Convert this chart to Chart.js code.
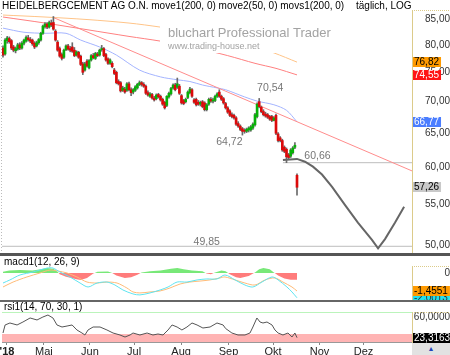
<!DOCTYPE html>
<html>
<head>
<meta charset="utf-8">
<script src="https://cdn.jsdelivr.net/npm/chart.js@4"></script>
<style>
  body { margin: 0; background: #fff; width: 450px; height: 355px; overflow: hidden; position: relative;
         font-family: "Liberation Sans", Arial, sans-serif; }
  canvas { position: absolute; left: 0; }
  #cMain { top: 0; }
  #cMacd { top: 256px; }
  #cRsi { top: 302px; }
  .lbl { position: absolute; font-size: 10px; line-height: 12px; color: #000; white-space: nowrap; }
  .sep { position: absolute; left: 0; width: 450px; }
  #scroll { position: absolute; left: 412px; top: 343px; width: 38px; height: 12px; background: #e2e2e2;
            color: #2244bb; font-size: 7px; line-height: 12px; text-align: center; }
</style>
</head>
<body>
<canvas id="cMain" width="450" height="256"></canvas>
<canvas id="cMacd" width="450" height="46"></canvas>
<canvas id="cRsi" width="450" height="53"></canvas>
<div class="lbl" style="left:2px;top:0px">HEIDELBERGCEMENT AG O.N. move1(200, 0) move2(50, 0) movs1(200, 0)</div>
<div class="lbl" style="left:356px;top:0px">täglich, LOG</div>
<div class="lbl" style="left:4px;top:256px">macd1(12, 26, 9)</div>
<div class="lbl" style="left:4px;top:301px">rsi1(14, 70, 30, 1)</div>
<div class="sep" style="top:253px;height:3px;background:#555"></div>
<div class="sep" style="top:300px;height:2px;background:#666"></div>
<div id="scroll">▲</div>
<script>
// HeidelbergCement daily candles, Apr – mid Oct 2018 (one entry per trading day)
const opens = [
  79.4, 78.3, 80.8, 81.2, 80.8, 79.6, 78.9, 79.2, 80.0, 79.4,
  80.3, 80.7, 81.3, 81.0, 80.9, 80.3, 79.8, 80.4, 80.9, 82.2,
  83.5, 84.0, 83.4, 84.2, 84.3, 82.6, 80.5, 79.3, 78.2, 77.7,
  79.1, 79.8, 79.3, 79.6, 79.0, 78.1, 78.6, 77.9, 76.5, 75.4,
  77.0, 75.8, 77.2, 78.0, 77.5, 78.3, 78.1, 79.1, 79.3, 78.2,
  77.4, 76.6, 76.6, 75.4, 75.0, 73.4, 73.2, 71.9, 72.1, 71.9,
  73.0, 72.0, 71.6, 71.9, 72.3, 72.9, 73.2, 72.9, 72.6, 71.5,
  70.9, 71.2, 70.6, 70.5, 71.2, 70.9, 70.4, 69.9, 69.4, 70.8,
  71.3, 72.3, 72.8, 72.4, 72.6, 71.0, 70.2, 70.0, 70.7, 71.5,
  72.0, 70.3, 70.4, 69.9, 69.6, 70.0, 69.8, 68.7, 69.6, 70.4,
  70.1, 70.2, 70.9, 71.6, 70.9, 70.5, 69.7, 69.0, 68.5, 67.9,
  67.8, 67.4, 66.5, 66.1, 65.7, 65.4, 65.3, 65.5, 65.5, 65.8,
  66.3, 67.6, 70.0, 69.1, 68.4, 68.0, 67.9, 67.6, 67.6, 67.0,
  67.8, 64.9, 64.3, 63.9, 62.9, 62.6, 61.8, 61.6, 62.1, 62.9,
  58.9
];
const highs = [
  79.8, 81.2, 81.6, 81.5, 81.0, 79.9, 79.6, 80.3, 80.4, 80.6,
  81.1, 81.7, 81.8, 81.4, 81.1, 80.6, 80.7, 81.2, 82.4, 83.8,
  84.3, 84.3, 84.6, 84.8, 85.5, 82.9, 80.8, 79.6, 78.5, 79.2,
  80.0, 80.1, 79.7, 80.4, 79.5, 78.9, 78.8, 78.1, 76.8, 76.8,
  77.3, 77.3, 78.2, 78.4, 78.6, 78.6, 79.2, 79.9, 79.5, 78.4,
  77.6, 77.4, 76.9, 75.7, 75.2, 73.7, 73.4, 72.6, 72.4, 73.2,
  73.3, 72.3, 72.2, 72.7, 73.1, 73.5, 73.4, 73.2, 72.8, 71.8,
  71.5, 71.4, 70.9, 71.3, 71.4, 71.1, 70.6, 70.1, 71.0, 71.6,
  72.4, 73.0, 73.1, 74.0, 72.9, 71.2, 70.4, 70.6, 71.8, 72.4,
  72.2, 70.5, 70.6, 70.2, 70.1, 70.2, 70.0, 69.7, 70.6, 70.7,
  70.6, 71.1, 71.5, 72.0, 71.1, 70.7, 69.9, 69.2, 68.7, 68.2,
  68.0, 67.6, 66.8, 66.3, 65.9, 65.7, 65.8, 66.0, 66.2, 66.6,
  68.1, 69.8, 70.54, 69.3, 68.7, 68.3, 68.1, 67.8, 67.8, 67.6,
  68.0, 65.1, 64.5, 64.1, 63.1, 62.8, 62.0, 62.7, 63.0, 63.6,
  59.1
];
const lows = [
  77.7, 78.1, 80.3, 80.3, 79.1, 78.7, 78.5, 79.0, 79.1, 79.2,
  80.0, 80.5, 80.7, 80.4, 79.9, 79.3, 79.6, 80.1, 80.7, 82.0,
  83.2, 83.1, 83.2, 83.5, 82.8, 80.7, 78.8, 77.7, 77.2, 77.5,
  78.9, 79.0, 78.7, 78.6, 77.8, 77.9, 77.5, 76.2, 74.6, 75.2,
  75.9, 75.6, 77.0, 77.4, 77.3, 77.8, 77.9, 78.8, 77.8, 77.0,
  76.4, 76.4, 75.8, 74.6, 73.0, 72.8, 71.6, 71.7, 71.4, 71.7,
  71.8, 71.0, 71.3, 71.7, 72.1, 72.7, 72.6, 72.4, 71.2, 70.9,
  70.7, 70.4, 70.1, 70.3, 70.6, 70.1, 69.4, 68.8, 69.2, 70.6,
  71.1, 72.1, 71.8, 72.2, 71.2, 69.6, 69.5, 69.8, 70.5, 71.3,
  70.7, 69.7, 69.3, 69.4, 69.3, 69.0, 68.5, 68.5, 69.4, 69.9,
  69.8, 70.0, 70.7, 70.7, 70.2, 69.6, 68.8, 68.1, 67.6, 67.4,
  67.2, 66.2, 65.9, 65.4, 64.72, 65.0, 65.1, 65.2, 65.3, 65.6,
  66.1, 67.4, 69.0, 68.2, 67.7, 67.5, 67.3, 67.0, 66.8, 66.9,
  64.8, 63.7, 63.7, 62.3, 62.1, 60.66, 61.2, 61.4, 61.9, 62.7,
  56.2
];
const closes = [
  78.1, 80.9, 81.3, 80.6, 79.4, 79.0, 79.3, 80.0, 79.4, 80.3,
  80.9, 81.4, 81.0, 80.7, 80.2, 79.6, 80.4, 81.0, 82.2, 83.6,
  84.0, 83.4, 84.3, 83.8, 83.0, 80.9, 79.0, 77.9, 77.5, 79.0,
  79.8, 79.2, 79.0, 78.8, 78.0, 78.7, 77.7, 76.4, 75.0, 76.5,
  76.1, 77.1, 78.0, 77.6, 78.4, 78.0, 79.0, 79.3, 78.0, 77.2,
  76.6, 77.2, 76.0, 74.8, 73.2, 73.0, 71.8, 72.3, 71.6, 73.0,
  72.0, 71.5, 72.0, 72.5, 72.9, 73.2, 72.9, 72.6, 71.4, 71.1,
  71.3, 70.6, 70.3, 71.1, 70.8, 70.3, 69.6, 69.0, 70.9, 71.4,
  72.2, 72.8, 72.0, 73.0, 71.4, 69.8, 69.7, 70.4, 71.6, 72.1,
  70.9, 69.9, 69.5, 69.6, 69.9, 69.2, 68.7, 69.5, 70.4, 70.1,
  70.3, 70.9, 71.3, 70.9, 70.4, 69.8, 69.0, 68.3, 67.8, 67.6,
  67.4, 66.4, 66.1, 65.6, 65.3, 65.3, 65.6, 65.8, 66.0, 66.4,
  67.9, 69.6, 69.2, 68.4, 67.9, 67.7, 67.5, 67.2, 67.0, 67.4,
  65.0, 63.9, 63.9, 62.5, 62.3, 61.5, 61.4, 62.5, 62.8, 63.2,
  57.26
];

// moving averages (day index, value)
const move1Idx = [0, 20, 40, 60, 75, 90, 107, 120, 130, 140];
const move1 = [85.4, 84.2, 82.9, 81.6, 80.7, 79.6, 78.0, 76.6, 75.7, 74.55];
const movs1Idx = [0, 20, 40, 60, 75, 90, 105, 120, 129, 140];
const movs1 = [85.8, 85.4, 84.9, 84.2, 83.4, 82.4, 81.3, 79.6, 78.5, 76.82];
const move2Idx = [0, 10, 20, 30, 37, 46, 54, 65, 75, 83, 89, 95, 102, 106, 115, 121, 129, 135, 140];
const move2 = [83.2, 82.4, 82.2, 82.2, 80.9, 79.6, 78.1, 75.4, 74.2, 73.7, 73.4, 72.8, 72.3, 72.0, 70.8, 70.1, 69.5, 68.6, 66.77];

// trend line from the May high, and the drawn projection
const trendIdx = [24, 194.76];
const trendVals = [85.3, 59.5];
const projIdx = [133.3, 140, 143.8, 147.6, 151.9, 156.7, 162.9, 169, 175.7, 178.6, 181.9, 186.7, 191];
const projVals = [61.05, 61.2, 60.8, 60.1, 59.0, 57.3, 54.9, 52.7, 50.6, 49.6, 50.7, 52.7, 54.7];

// marked highs / lows
const noteIdx = [122, 114, 135, 97];
const noteVals = [70.54, 64.72, 60.66, 49.85];
const noteOffsets = [[11, -10], [-13, 7], [31, -7], [0, -4]];
const levelFrom = [133.3, -0.476];
const levelVals = [60.66, 49.85];

// MACD panel
const macdIdx = [0, 3.3, 8.1, 14.3, 21, 23.8, 27.1, 31.9, 36.7, 40.5, 44.8, 49.5, 53.3, 57.1, 61.9, 65.2, 70, 74.8, 78.6, 82.9, 87.6, 92.4, 97.1, 101.9, 105.7, 110.5, 115.2, 119, 123.3, 128.1, 131, 135.2, 137.6, 140];
const macdVals = [-0.81, -0.56, -0.16, 0.08, 0.40, 0.40, 0.08, -0.32, -0.81, -1.13, -0.81, -0.73, -0.97, -1.37, -1.69, -1.77, -1.61, -1.37, -1.13, -0.73, -0.73, -0.56, -0.48, -0.48, -0.16, -0.56, -0.97, -1.13, -0.73, -0.32, -0.56, -1.13, -1.53, -2.0013];
const sigIdx = [0, 4.8, 11.4, 17.6, 22.4, 26.2, 30.5, 35.2, 40, 44.8, 49.5, 54.3, 59, 61.9, 65.2, 70, 74.8, 79.5, 84.3, 89, 93.8, 98.6, 103.3, 105.7, 110.5, 115.2, 120, 124.8, 129.5, 133.3, 137.6, 140];
const sigVals = [-1.13, -0.73, -0.32, 0, 0.24, 0.16, 0, -0.32, -0.73, -0.81, -0.73, -0.81, -1.21, -1.53, -1.61, -1.53, -1.45, -1.21, -0.89, -0.73, -0.65, -0.56, -0.40, -0.32, -0.56, -0.81, -0.97, -0.56, -0.40, -0.73, -1.13, -1.4551];
const histIdx = [0, 3, 8, 14, 18, 21, 24, 26, 27, 30, 35, 37, 40, 43, 45, 50, 52, 54, 58, 61, 64, 66, 70, 75, 80, 83, 86, 90, 95, 97, 99, 101, 104, 106, 108, 111, 113, 117, 120, 122, 124, 127, 129, 131, 134, 137, 140];
const histVals = [0.1, 0.2, 0.25, 0.2, 0.3, 0.4, 0.35, 0.1, -0.1, -0.3, -0.5, -0.56, -0.4, -0.05, 0.1, 0.12, 0, -0.2, -0.4, -0.35, -0.15, 0.05, 0.15, 0.2, 0.35, 0.4, 0.3, 0.2, 0.15, -0.05, -0.1, 0.05, 0.2, 0.15, -0.1, -0.35, -0.4, -0.25, 0.05, 0.3, 0.4, 0.3, 0.05, -0.2, -0.45, -0.55, -0.55];

// RSI panel
const rsiUpper = 70, rsiLower = 30;
const rsiIdx = [0, 1, 3.3, 6.7, 9.5, 12.9, 16.2, 19, 21.4, 23.8, 25.7, 28.1, 30.5, 32.9, 35.2, 37.6, 39, 40.5, 42.9, 46.2, 49.5, 52.4, 55.7, 58.1, 60.5, 61.9, 65.2, 68.6, 71.4, 73.8, 76.2, 78.6, 80.5, 82.9, 85.2, 87.6, 90, 92.4, 95.2, 98.6, 101.9, 104.8, 106, 109, 111.9, 115.2, 117.6, 119, 120.9, 122.4, 123.8, 125.7, 128.1, 129.5, 131, 133.3, 135.7, 137.6, 139, 140];
const rsiVals = [31.8, 46.4, 50, 46.4, 51.8, 59.1, 55.5, 60.9, 64.5, 59.1, 46.4, 42.7, 44.5, 46.4, 37.3, 31.8, 28.2, 37.3, 42.7, 42.7, 37.3, 31.8, 28.2, 24.5, 28.2, 31.8, 28.2, 31.8, 28.2, 30, 28.2, 37.3, 46.4, 42.7, 37.3, 42.7, 50, 46.4, 40.9, 42.7, 50, 46.4, 40, 31.8, 28.2, 28.2, 31.8, 42.7, 59.1, 51.8, 50, 51.8, 46.4, 37.3, 31.8, 28.2, 31.8, 24.5, 31.8, 23.3163];

// axis ticks
const priceTicks = [50, 55, 60, 65, 70, 75, 80, 85];
const monthLabels = ["'18", "Mai", "Jun", "Jul", "Aug", "Sep", "Okt", "Nov", "Dez"];
const monthPos = [1.9, 19.5, 41.4, 62.4, 84.8, 107.4, 128.6, 150.7, 171.7];

const FONT = '"Liberation Sans", Arial, sans-serif';
const X_MIN = -0.476, X_MAX = 194.76;
const GREEN = '#08b008', RED = '#dc0a0a';

Chart.defaults.font.family = FONT;
Chart.defaults.font.size = 10;
Chart.defaults.animation = false;
Chart.defaults.plugins.legend.display = false;
Chart.defaults.plugins.tooltip.enabled = false;
Chart.defaults.elements.point.radius = 0;

const pts = (xs, ys) => xs.map((x, i) => ({ x, y: ys[i] }));
const fmt = (v, d) => v.toFixed(d).replace('.', ',');
const last = arr => arr[arr.length - 1];

function xAxis(show) {
  return {
    type: 'linear', min: X_MIN, max: X_MAX, offset: false, display: show,
    grid: { drawOnChartArea: false, tickLength: 3, color: '#888' },
    border: { color: '#999' },
    afterBuildTicks: s => { s.ticks = monthPos.map(v => ({ value: v })); s.min = X_MIN; s.max = X_MAX; },
    afterFit: s => { s.height = show ? 13 : 0; s.paddingLeft = 0; s.paddingRight = 0; },
    ticks: {
      autoSkip: false, maxRotation: 0, padding: 0, color: '#222',
      callback: (v, i) => monthLabels[i],
      font: ctx => ({ size: 11, weight: ctx.index === 0 ? 'bold' : 'normal' })
    }
  };
}

function yAxis(type, min, max, ticks, label, pad) {
  return {
    type, min, max,
    position: 'right',
    grid: { display: false, drawTicks: false },
    border: { display: true, color: '#dccb8a', dash: [1, 1] },
    // keep the exact range, whatever the tick generator did
    afterBuildTicks: s => { s.ticks = ticks.map(v => ({ value: v })); s.min = min; s.max = max; },
    afterFit: s => { s.width = 38; s.paddingTop = 0; s.paddingBottom = 0; },
    ticks: { crossAlign: 'far', padding: pad, color: '#333', autoSkip: false, callback: label }
  };
}

// little coloured boxes with the latest values on the right axis
function valueBoxes(items) {
  return {
    id: 'valueBoxes',
    afterDraw(chart) {
      const { ctx, chartArea: a, width } = chart;
      const y = chart.scales.y;
      ctx.save();
      ctx.strokeStyle = '#dccb8a';
      ctx.setLineDash([1, 1]);
      ctx.beginPath();
      ctx.moveTo(a.right, a.top + 0.5);
      ctx.lineTo(width, a.top + 0.5);
      ctx.stroke();
      ctx.setLineDash([]);
      ctx.font = '10px ' + FONT;
      ctx.textBaseline = 'middle';
      items.forEach(b => {
        const py = Math.round(y.getPixelForValue(b.value));
        const w = ctx.measureText(b.text).width + 3;
        ctx.fillStyle = b.bg;
        ctx.fillRect(a.right + 1, py - 5, w, 10);
        ctx.fillStyle = b.fg;
        ctx.fillText(b.text, a.right + 2, py + 0.5);
      });
      ctx.restore();
    }
  };
}

const mainMarks = {
  id: 'mainMarks',
  afterDatasetsDraw(chart) {
    const { ctx, chartArea: a } = chart;
    const x = chart.scales.x, y = chart.scales.y;
    ctx.save();
    // watermark box hides the long averages behind it
    ctx.fillStyle = '#fff';
    ctx.fillRect(160, 20, 172, 33);
    ctx.fillStyle = '#a3a3a3';
    ctx.font = '13px ' + FONT;
    ctx.fillText('bluchart Professional Trader', 168, 37);
    ctx.font = '9px ' + FONT;
    ctx.fillText('www.trading-house.net', 168, 49);
    // high / low notes
    ctx.font = '10.5px ' + FONT;
    ctx.fillStyle = '#777';
    ctx.textAlign = 'center';
    ctx.textBaseline = 'middle';
    noteVals.forEach((v, i) => {
      ctx.fillText(fmt(v, 2), x.getPixelForValue(noteIdx[i]) + noteOffsets[i][0],
        y.getPixelForValue(v) + noteOffsets[i][1]);
    });
    // dotted left edge
    ctx.strokeStyle = '#bbb';
    ctx.setLineDash([1, 2]);
    ctx.beginPath();
    ctx.moveTo(1.5, a.top);
    ctx.lineTo(1.5, a.bottom);
    ctx.stroke();
    ctx.restore();
  }
};

// --- Price panel ---
const candleIdx = closes.map((c, i) => i);
const candleColor = ctx => closes[ctx.dataIndex] >= opens[ctx.dataIndex] ? GREEN : RED;

new Chart(document.getElementById('cMain'), {
  type: 'bar',
  data: {
    datasets: [
      { data: candleIdx.map(i => ({ x: i, y: [opens[i], closes[i]] })), backgroundColor: candleColor,
        barThickness: 2, minBarLength: 1, grouped: false, borderSkipped: false, order: 0 },
      { data: candleIdx.map(i => ({ x: i, y: [lows[i], highs[i]] })), backgroundColor: '#6a6a6a',
        barThickness: 1, grouped: false, borderSkipped: false, order: 1 },
      { type: 'line', data: pts(projIdx, projVals), borderColor: '#666', borderWidth: 2, order: 2 },
      { type: 'line', data: pts(trendIdx, trendVals), borderColor: '#ff8c8c', borderWidth: 1, order: 3 },
      { type: 'line', data: pts(move1Idx, move1), borderColor: '#ff8080', borderWidth: 1, tension: 0.3, order: 3 },
      { type: 'line', data: pts(movs1Idx, movs1), borderColor: '#ffc488', borderWidth: 1, tension: 0.3, order: 3 },
      { type: 'line', data: pts(move2Idx, move2), borderColor: '#a4b4ff', borderWidth: 1, tension: 0.3, order: 3 },
      { type: 'line', data: [{ x: levelFrom[0], y: levelVals[0] }, { x: X_MAX, y: levelVals[0] }], borderColor: '#bdbdbd', borderWidth: 1, order: 4 },
      { type: 'line', data: [{ x: levelFrom[1], y: levelVals[1] }, { x: X_MAX, y: levelVals[1] }], borderColor: '#bdbdbd', borderWidth: 1, order: 4 }
    ]
  },
  options: {
    responsive: false,
    layout: { padding: { left: 2, right: 0, top: 10, bottom: 3 } },
    scales: {
      x: xAxis(false),
      y: yAxis('logarithmic', 49.07, 86.82, priceTicks, v => fmt(v, 2), 13)
    }
  },
  plugins: [mainMarks, valueBoxes([
    { value: last(movs1), text: fmt(last(movs1), 2), bg: '#ff9a00', fg: '#000' },
    { value: last(move1), text: fmt(last(move1), 2), bg: '#ff1414', fg: '#fff' },
    { value: last(move2), text: fmt(last(move2), 2), bg: '#4a7dff', fg: '#fff' },
    { value: last(closes), text: fmt(last(closes), 2), bg: '#c9c9c9', fg: '#000' }
  ])]
});

// --- MACD panel ---
new Chart(document.getElementById('cMacd'), {
  type: 'line',
  data: {
    datasets: [
      { data: pts(macdIdx, macdVals), borderColor: '#5fe4f0', borderWidth: 1, tension: 0.3 },
      { data: pts(sigIdx, sigVals), borderColor: '#ffbb77', borderWidth: 1, tension: 0.3 },
      { data: pts(histIdx, histVals), borderWidth: 0,
        fill: { target: 'origin', above: '#78e878', below: '#ff7c7c' } }
    ]
  },
  options: {
    responsive: false,
    layout: { padding: { left: 2, right: 0, top: 10, bottom: 2 } },
    scales: {
      x: xAxis(false),
      y: yAxis('linear', -2.18, 0.565, [0], v => String(v), 32)
    }
  },
  plugins: [valueBoxes([
    { value: last(macdVals), text: fmt(last(macdVals), 4), bg: '#22e0ee', fg: '#333' },
    { value: last(sigVals), text: fmt(last(sigVals), 4), bg: '#ff9a00', fg: '#000' }
  ])]
});

// --- RSI panel ---
new Chart(document.getElementById('cRsi'), {
  type: 'line',
  data: {
    datasets: [
      { data: pts(rsiIdx, rsiVals), borderColor: '#555', borderWidth: 1 },
      { data: [{ x: X_MIN, y: rsiUpper }, { x: X_MAX, y: rsiUpper }], borderColor: '#a4f0a4', borderWidth: 1.5 },
      { data: [{ x: X_MIN, y: rsiLower }, { x: X_MAX, y: rsiLower }], borderWidth: 0,
        fill: 'start', backgroundColor: '#ffb4b4' }
    ]
  },
  options: {
    responsive: false,
    layout: { padding: { left: 2, right: 0, top: 10, bottom: 0 } },
    scales: {
      x: xAxis(true),
      y: yAxis('linear', 15.45, 70, [60], v => fmt(v, 4), 1)
    }
  },
  plugins: [valueBoxes([
    { value: last(rsiVals), text: fmt(last(rsiVals), 4), bg: '#000', fg: '#fff' }
  ])]
});
</script>
</body>
</html>
